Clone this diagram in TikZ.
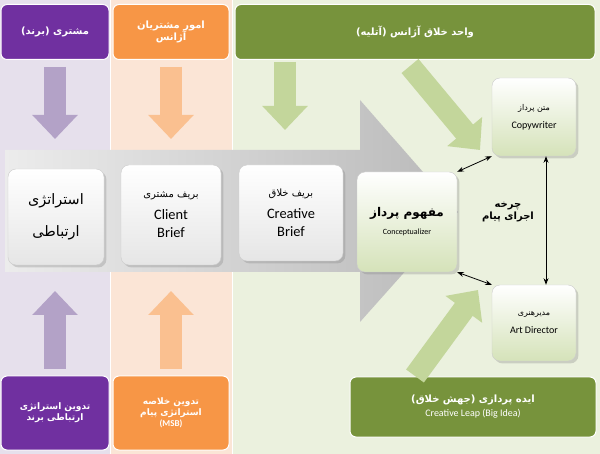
\documentclass[tikz,border=0pt]{standalone}
\usepackage{fontspec}
\setmainfont{Carlito}
\newfontfamily\fa[Script=Arabic]{DejaVu Sans}
\usetikzlibrary{arrows.meta,shadows,calc}
\TeXXeTstate=1
\newcommand\fatext[1]{{\fa\beginR #1\endR}}
\definecolor{pbg}{HTML}{E6E0EC}
\definecolor{obg}{HTML}{FBE5D6}
\definecolor{gbg}{HTML}{EBF1DE}
\definecolor{pdark}{HTML}{7030A0}
\definecolor{odark}{HTML}{F79646}
\definecolor{gdark}{HTML}{77933C}
\definecolor{parr}{HTML}{B3A2C7}
\definecolor{oarr}{HTML}{FAC090}
\definecolor{garr}{HTML}{C3D69B}
\tikzset{
  head/.style = {rounded corners = 6pt, draw = white, line width = 1pt, text = white, font = \bfseries, align = center},
  card/.style = {rounded corners = 8pt, draw = gray!40, top color = white, bottom color = gray!20, drop shadow = {opacity = 0.3}, align = center},
  gcard/.style = {card, top color = white, bottom color = garr!70},
  fat/.style = {line width = 22pt, -{Triangle[length = 24pt, width = 44pt]}},
  link/.style = {thick, {Stealth}-{Stealth}}
}
\begin{document}
\begin{tikzpicture}[x = 1pt, y = -1pt]
\useasboundingbox (0,0) rectangle (600,454);
% columns
\fill[pbg] (0,0) rectangle (110,454);
\fill[obg] (110,0) rectangle (232,454);
\fill[gbg] (232,0) rectangle (600,454);
\draw[white, line width = 1pt] (110,0) -- (110,454) (232,0) -- (232,454);
% big arrow
\shade[left color = gray!15, right color = gray!55] (5,150) -- (360,150) -- (360,100) -- (458,212) -- (360,322) -- (360,272) -- (5,272) -- cycle;
% headers
\node[head, fill = pdark, minimum width = 108pt, minimum height = 55pt] (client) at (55,32) {\fatext{مشتری (برند)}};
\node[head, fill = odark, minimum width = 116pt, minimum height = 55pt] (account) at (171,32) {\fatext{امور مشتریان}\\ \fatext{آژانس}};
\node[head, fill = gdark, minimum width = 360pt, minimum height = 55pt] (studio) at (415,32) {\fatext{واحد خلاق آژانس (آتلیه)}};
% cards
\node[card, minimum width = 96pt, minimum height = 96pt, font = \Large] (strategy) at (56,217) {\fatext{استراتژی}\\[14pt] \fatext{ارتباطی}};
\node[card, minimum width = 100pt, minimum height = 100pt, font = \Large] (cbrief) at (171,215) {\fatext{\normalsize بریف مشتری}\\[4pt] Client\\ Brief};
\node[card, minimum width = 104pt, minimum height = 96pt, font = \Large] (crbrief) at (291,213) {\fatext{\normalsize بریف خلاق}\\[4pt] Creative\\ Brief};
\node[gcard, minimum width = 100pt, minimum height = 100pt, font = \large] (concept) at (407,222) {\fatext{\bfseries مفهوم پرداز}\\[4pt] \footnotesize Conceptualizer};
\node[gcard, minimum width = 84pt, minimum height = 78pt] (copy) at (534,117) {\fatext{\footnotesize متن پرداز}\\[6pt] Copywriter};
\node[gcard, minimum width = 84pt, minimum height = 76pt] (art) at (534,323) {\fatext{\footnotesize مدیرهنری}\\[6pt] Art Director};
\node[font = \bfseries, align = center] (cycle) at (508,212) {\fatext{چرخه}\\ \fatext{اجرای پیام}};
% bottom boxes
\node[head, fill = pdark, minimum width = 108pt, minimum height = 74pt, font = \bfseries\small] (plan) at (55,413) {\fatext{تدوین استراتژی}\\ \fatext{ارتباطی برند}};
\node[head, fill = odark, minimum width = 116pt, minimum height = 74pt, font = \bfseries\small] (msb) at (171,413) {\fatext{تدوین خلاصه}\\ \fatext{استراتژی پیام}\\ (MSB)};
\node[head, fill = gdark, minimum width = 246pt, minimum height = 60pt] (leap) at (473,407) {\fatext{\bfseries ایده پردازی (جهش خلاق)}\\[2pt] \mdseries Creative Leap (Big Idea)};
% fat arrows
\draw[fat, parr] (client) ++(0,35) -- ++(0,72);
\draw[fat, parr] (plan) ++(0,-44) -- ++(0,-78);
\draw[fat, oarr] (account) ++(0,35) -- ++(0,72);
\draw[fat, oarr] (msb) ++(0,-44) -- ++(0,-78);
\draw[fat, garr] (285,62) -- (285,130);
\draw[fat, garr] (410,66) -- (480,150);
\draw[fat, garr] (415,376) -- (478,290);
% links
\draw[link] (concept.north east) -- (copy.south west);
\draw[link] (concept.south east) -- (art.north west);
\draw[link] ($(copy.south)+(12,0)$) -- ($(art.north)+(12,0)$);
\end{tikzpicture}
\end{document}
